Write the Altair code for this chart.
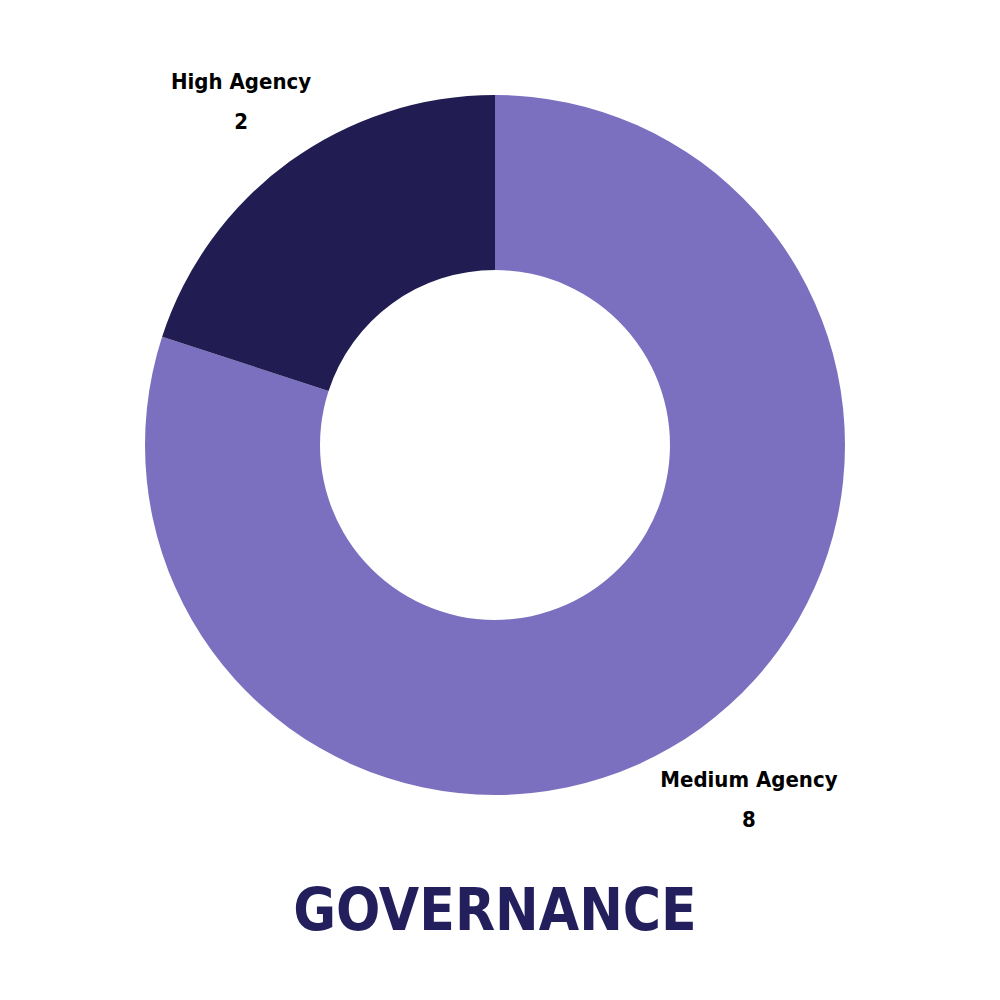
import altair as alt
import pandas as pd

categories = ["Medium Agency", "High Agency"]
values = [8, 2]
colors = ["#7B6FC0", "#211D52"]
order = [0, 1]
title_text = "GOVERNANCE"

df = pd.DataFrame({"category": categories, "value": values, "order": order})
df["label"] = df["category"] + "\n" + df["value"].astype(str)

cx, cy = 487, 437
FONT = "'DejaVu Sans Condensed', 'Roboto Condensed', 'Liberation Sans Narrow', Roboto, 'Liberation Sans', sans-serif"

base = alt.Chart(df).encode(
    theta=alt.Theta("value:Q", stack=True),
    order=alt.Order("order:Q"),
)

arcs = base.mark_arc(outerRadius=350, innerRadius=175).encode(
    color=alt.Color("category:N", scale=alt.Scale(domain=categories, range=colors), legend=None),
    x=alt.value(cx), y=alt.value(cy),
)

labels = base.mark_text(
    radius=432, dy=-14, font=FONT, fontWeight="bold", fontSize=22,
    lineBreak="\n", lineHeight=40, color="#000000", align="center", baseline="middle",
).encode(text="label:N", x=alt.value(cx), y=alt.value(cy))

title = alt.Chart(pd.DataFrame({"t": [title_text]})).mark_text(
    font=FONT, fontWeight="bold", fontSize=58, color="#221F5C",
    align="center", baseline="middle",
).encode(text="t:N", x=alt.value(cx), y=alt.value(905))

chart = alt.layer(arcs, labels, title).properties(
    width=984, height=984, padding=0
).configure_view(stroke=None)

chart.save("out.html", embed_options={"renderer": "svg", "actions": False})
